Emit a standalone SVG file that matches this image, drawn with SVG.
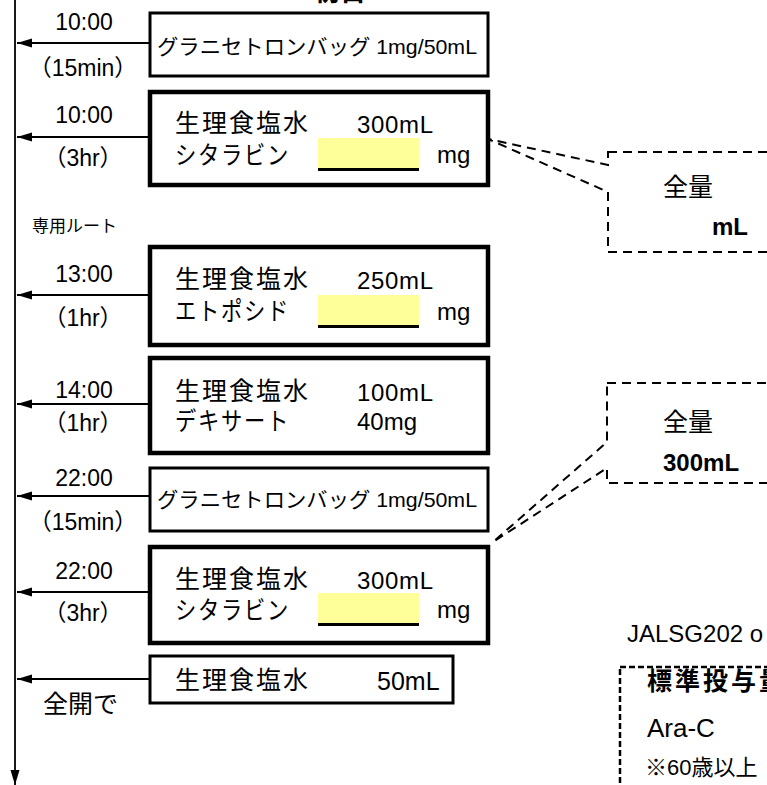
<svg xmlns="http://www.w3.org/2000/svg" width="767" height="785" viewBox="0 0 767 785">
<defs>
<marker id="ah" markerUnits="userSpaceOnUse" markerWidth="16" markerHeight="10" refX="15" refY="4.5" orient="auto">
<path d="M0,0 L15,4.5 L0,9 Z" fill="#000"/>
</marker>
<style>
text{font-family:"Liberation Sans","Noto Sans CJK JP",sans-serif;fill:#000}
.t{font-size:23px;text-anchor:middle}
.d{font-size:23px;text-anchor:middle}
.jp{font-size:25px;letter-spacing:2px}
.n{font-size:24px}
.thin{fill:#fff;stroke:#000;stroke-width:3}
.thick{fill:#fff;stroke:#000;stroke-width:4.5}
.yel{fill:#ffff99}
.ul{stroke:#000;stroke-width:3}
.conn{stroke:#000;stroke-width:1.8;fill:none}
.dash{fill:#fff;stroke:#000;stroke-width:2;stroke-dasharray:9 6}
.dash2{fill:#fff;stroke:#000;stroke-width:2.5;stroke-dasharray:6 3}
.b{font-weight:bold}
</style>
</defs>
<text x="340" y="1" class="b" style="font-size:26px;text-anchor:middle">初日</text>
<g id="connectors">
<line class="conn" x1="15" y1="0" x2="15" y2="785" marker-end="url(#ah)"/>
<line class="conn" x1="150" y1="43" x2="17" y2="43" marker-end="url(#ah)"/>
<line class="conn" x1="150" y1="137" x2="17" y2="137" marker-end="url(#ah)"/>
<line class="conn" x1="150" y1="295" x2="17" y2="295" marker-end="url(#ah)"/>
<line class="conn" x1="150" y1="404" x2="17" y2="404" marker-end="url(#ah)"/>
<line class="conn" x1="150" y1="496" x2="17" y2="496" marker-end="url(#ah)"/>
<line class="conn" x1="150" y1="592" x2="17" y2="592" marker-end="url(#ah)"/>
<line class="conn" x1="150" y1="679" x2="17" y2="679" marker-end="url(#ah)"/>
</g>
<g id="labels">
<text class="t" x="84" y="30">10:00</text>
<text class="d" x="83" y="76">（15min）</text>
<text class="t" x="84" y="123">10:00</text>
<text class="d" x="83" y="166">（3hr）</text>
<text x="32" y="232" style="font-size:17px">専用ルート</text>
<text class="t" x="84" y="282">13:00</text>
<text class="d" x="83" y="326">（1hr）</text>
<text class="t" x="84" y="398">14:00</text>
<text class="d" x="83" y="431">（1hr）</text>
<text class="t" x="84" y="486">22:00</text>
<text class="d" x="83" y="530">（15min）</text>
<text class="t" x="84" y="579">22:00</text>
<text class="d" x="83" y="621">（3hr）</text>
<text x="43" y="713" style="font-size:25px">全開で</text>
</g>
<g id="box1">
<rect class="thin" x="150" y="13" width="338" height="63"/>
<text x="157" y="54" style="font-size:21px" textLength="320" lengthAdjust="spacingAndGlyphs">グラニセトロンバッグ 1mg/50mL</text>
</g>
<g id="box2">
<rect class="thick" x="150" y="92" width="338" height="93"/>
<text class="jp" x="175" y="132">生理食塩水</text>
<text class="n" x="357" y="133" textLength="76">300mL</text>
<text class="jp" x="175" y="164" textLength="115" lengthAdjust="spacingAndGlyphs">シタラビン</text>
<rect class="yel" x="318" y="138" width="101" height="30"/>
<line class="ul" x1="318" y1="169.5" x2="419" y2="169.5"/>
<text class="n" x="437" y="163">mg</text>
</g>
<g id="box3">
<rect class="thick" x="150" y="247" width="338" height="98"/>
<text class="jp" x="175" y="288">生理食塩水</text>
<text class="n" x="357" y="289" textLength="76">250mL</text>
<text class="jp" x="175" y="320" textLength="115" lengthAdjust="spacingAndGlyphs">エトポシド</text>
<rect class="yel" x="318" y="295" width="101" height="30"/>
<line class="ul" x1="318" y1="326.5" x2="419" y2="326.5"/>
<text class="n" x="437" y="320">mg</text>
</g>
<g id="box4">
<rect class="thick" x="150" y="358" width="338" height="95"/>
<text class="jp" x="175" y="400">生理食塩水</text>
<text class="n" x="357" y="401" textLength="76">100mL</text>
<text class="jp" x="175" y="430" textLength="115" lengthAdjust="spacingAndGlyphs">デキサート</text>
<text class="n" x="357" y="430">40mg</text>
</g>
<g id="box5">
<rect class="thin" x="150" y="468" width="338" height="63"/>
<text x="157" y="507" style="font-size:21px" textLength="320" lengthAdjust="spacingAndGlyphs">グラニセトロンバッグ 1mg/50mL</text>
</g>
<g id="box6">
<rect class="thick" x="150" y="547" width="338" height="96"/>
<text class="jp" x="175" y="588">生理食塩水</text>
<text class="n" x="357" y="589" textLength="76">300mL</text>
<text class="jp" x="175" y="619" textLength="115" lengthAdjust="spacingAndGlyphs">シタラビン</text>
<rect class="yel" x="318" y="593" width="101" height="30"/>
<line class="ul" x1="318" y1="624.5" x2="419" y2="624.5"/>
<text class="n" x="437" y="618">mg</text>
</g>
<g id="box7">
<rect class="thin" x="150" y="656" width="303" height="47"/>
<text class="jp" x="175" y="689">生理食塩水</text>
<text x="377" y="690" style="font-size:25px">50mL</text>
</g>
<g id="callout1">
<path class="dash" d="M608,152 H780 V252 H608 V192 L488,139 L608,165 Z"/>
<text x="663" y="196" style="font-size:25px">全量</text>
<text class="b" x="712" y="235" style="font-size:24px">mL</text>
</g>
<g id="callout2">
<path class="dash" d="M607,383 H780 V483 H607 V468 L493,542 L607,442 Z"/>
<text x="663" y="431" style="font-size:25px">全量</text>
<text class="b" x="663" y="471" style="font-size:24px">300mL</text>
</g>
<g id="note">
<text x="627" y="642" style="font-size:24px">JALSG202 o</text>
<rect class="dash2" x="620" y="667" width="200" height="200"/>
<text class="b" x="647" y="690" style="font-size:25px;letter-spacing:3px">標準投与量</text>
<text x="647" y="737" style="font-size:26px">Ara-C</text>
<text x="645" y="775" style="font-size:22px">※60歳以上</text>
</g>
</svg>
